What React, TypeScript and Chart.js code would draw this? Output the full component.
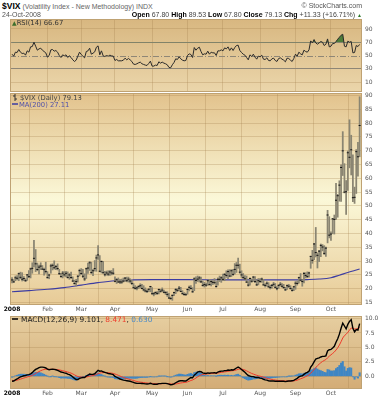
import React, { useEffect, useRef } from "react";
import { Chart, registerables } from "chart.js";
Chart.register(...registerables);

const FONT = "'DejaVu Sans', Verdana, sans-serif";
const HFONT = "'Liberation Sans', Arial, sans-serif";

// ---- x axis (trading-day index) ----
const monthTickIdx = [0, 21, 41, 61, 83, 104, 125, 147, 168, 189];
const monthLabels = ["2008", "Feb", "Mar", "Apr", "May", "Jun", "Jul", "Aug", "Sep", "Oct"];
const rsiTicks = [10, 30, 50, 70, 90];
const priceTicks = [15, 20, 25, 30, 35, 40, 45, 50, 55, 60, 65, 70, 75, 80, 85, 90];
const macdTicks = [0, 2.5, 5, 7.5, 10];

// ---- $VIX daily bars, Jan 2 – Oct 24 2008 ----
const highs = [
  24.05, 23.3, 24.6, 24.8, 25.7, 26.0, 25.8, 24.4, 23.6, 25.2, 26.6, 27.5, 29.4, 37.57, 34.2, 29.3, 28.6, 29.4, 28.4, 27.5, 29.6,
  26.2, 25.3, 28.9, 29.0, 30.1, 28.5, 29.0, 27.0, 25.6, 26.3, 26.2, 26.3, 26.1, 25.5, 26.0, 24.3, 23.1, 23.4, 24.8, 27.1,
  27.3, 27.0, 25.4, 27.5, 29.3, 29.9, 29.6, 27.0, 30.2, 32.2, 35.6, 32.0, 30.1, 29.9, 26.3, 26.4, 26.5, 26.6, 26.6, 27.3,
  24.3, 23.7, 23.9, 23.4, 23.5, 23.9, 24.1, 24.2, 24.2, 23.6, 23.1, 21.9, 21.1, 20.7, 21.1, 21.8, 21.6, 21.1, 20.3, 19.6, 20.0, 20.9,
  20.4, 18.6, 18.9, 19.0, 19.9, 19.8, 20.3, 19.5, 19.0, 18.9, 18.3, 17.0, 17.8, 18.8, 20.1, 20.0, 20.9, 20.5, 19.3, 18.6, 18.4,
  20.0, 21.0, 21.1, 20.4, 24.0, 24.3, 24.6, 24.5, 24.2, 22.8, 22.3, 22.0, 23.1, 23.4, 23.2, 22.9, 23.7, 22.6, 23.9, 24.6, 24.4,
  25.3, 25.5, 26.5, 26.8, 26.9, 26.9, 27.0, 29.1, 29.5, 31.1, 28.9, 26.5, 25.5, 24.8, 24.6, 22.6, 23.9, 23.6, 24.5, 24.4, 23.2, 23.7,
  23.7, 23.9, 23.4, 21.8, 22.5, 22.2, 21.3, 21.6, 22.3, 21.9, 20.8, 21.5, 22.3, 21.9, 21.6, 20.5, 21.4, 21.6, 21.1, 20.2, 20.9,
  22.6, 22.8, 24.2, 25.5, 23.3, 25.9, 25.8, 26.1, 26.0, 31.8, 33.9, 36.4, 42.2, 33.0, 33.9, 36.2, 36.0, 35.6, 35.1, 48.4, 46.1,
  40.6, 45.5, 46.7, 58.2, 54.2, 59.1, 64.9, 76.9, 65.3, 59.2, 69.9, 81.2, 75.6, 68.5, 56.8, 70.4, 73.0, 89.53,
];
const lows = [
  22.06, 22.2, 22.9, 23.2, 22.9, 23.6, 22.8, 22.9, 22.6, 23.0, 24.0, 23.9, 25.6, 27.9, 26.2, 26.5, 25.4, 26.9, 26.9, 24.9, 25.6,
  23.8, 23.6, 25.6, 26.8, 27.1, 26.9, 26.8, 25.1, 24.2, 23.9, 24.5, 24.3, 23.8, 23.4, 23.6, 22.6, 21.6, 21.0, 22.4, 24.6,
  25.1, 24.0, 22.9, 23.7, 25.5, 26.6, 25.4, 24.7, 26.4, 26.3, 30.6, 26.1, 25.7, 25.6, 24.6, 24.9, 24.7, 24.8, 25.0, 25.1,
  22.5, 21.9, 22.2, 21.8, 21.9, 22.4, 22.6, 22.5, 22.4, 22.1, 21.5, 20.2, 19.8, 19.6, 20.1, 20.3, 19.9, 19.2, 18.8, 18.6, 18.9, 18.9,
  18.0, 17.4, 17.9, 17.9, 18.1, 18.7, 18.9, 18.5, 17.9, 17.2, 16.5, 16.1, 15.8, 17.5, 18.2, 18.9, 19.3, 18.9, 18.0, 17.6, 17.6,
  18.0, 19.2, 19.8, 18.6, 19.3, 21.9, 22.6, 22.4, 22.2, 20.9, 20.6, 20.8, 21.2, 21.3, 21.0, 21.5, 21.7, 20.5, 21.3, 22.6, 22.3,
  22.9, 22.9, 24.1, 23.6, 24.3, 24.4, 24.8, 25.3, 25.9, 27.4, 25.6, 24.1, 23.6, 23.3, 22.2, 20.9, 21.3, 22.3, 22.6, 22.2, 21.1, 21.4,
  22.3, 22.3, 21.2, 20.6, 20.9, 20.5, 19.9, 20.2, 20.9, 20.2, 19.6, 20.1, 20.9, 20.6, 20.1, 19.3, 19.7, 20.4, 19.8, 19.1, 19.3,
  19.8, 21.3, 22.0, 22.8, 20.9, 22.1, 23.9, 24.0, 24.2, 27.4, 29.2, 30.5, 31.5, 27.5, 29.8, 31.6, 33.7, 32.4, 31.7, 36.6, 38.4,
  37.5, 39.9, 39.8, 45.1, 45.9, 51.7, 51.6, 61.0, 54.7, 46.9, 55.6, 63.8, 61.2, 51.5, 50.9, 54.5, 60.8, 67.8,
];
const closes = [
  23.17, 22.49, 23.94, 23.79, 25.43, 24.12, 23.45, 23.68, 22.9, 25.01, 24.38, 27.18, 27.39, 31.01, 29.02, 26.96, 27.81, 28.19, 27.1, 26.9, 26.2,
  24.02, 24.95, 28.24, 28.48, 27.59, 28.01, 27.31, 25.45, 24.38, 25.63, 25.02, 25.59, 24.1, 24.99, 24.06, 22.78, 21.9, 22.58, 24.51, 26.54,
  25.52, 24.51, 23.53, 27.23, 27.49, 29.38, 25.89, 26.5, 27.29, 31.16, 32.24, 26.33, 29.84, 25.79, 25.06, 25.71, 25.28, 26.06, 25.71, 25.61,
  22.68, 23.27, 22.45, 22.45, 22.42, 22.77, 23.83, 22.9, 23.46, 22.77, 21.92, 20.37, 20.13, 20.3, 20.82, 21.08, 20.1, 19.59, 19.2, 19.04, 19.8, 20.79,
  18.18, 18.18, 18.61, 18.3, 19.73, 19.08, 19.5, 18.71, 18.6, 17.94, 16.63, 16.47, 17.58, 18.59, 19.66, 19.41, 20.19, 19.03, 18.22, 17.9, 17.83,
  19.72, 20.5, 20.1, 18.9, 23.56, 23.0, 23.47, 23.9, 22.5, 21.2, 21.5, 21.3, 22.9, 21.5, 22.6, 22.3, 22.2, 20.8, 23.4, 23.4, 23.95,
  23.4, 25.2, 24.8, 26.2, 24.6, 26.5, 25.2, 27.0, 28.5, 28.5, 26.0, 25.0, 24.1, 23.6, 22.4, 21.3, 23.7, 22.7, 24.2, 22.6, 21.4, 22.9,
  22.6, 23.5, 21.4, 21.2, 22.0, 20.7, 20.4, 21.2, 21.6, 20.5, 20.0, 21.2, 21.6, 20.9, 20.4, 19.6, 21.1, 20.9, 20.1, 19.4, 20.7,
  22.0, 21.9, 24.0, 23.1, 22.6, 25.5, 24.8, 24.4, 25.7, 31.7, 30.3, 36.2, 33.1, 32.1, 33.6, 35.7, 35.1, 32.8, 34.7, 46.7, 39.4,
  39.8, 45.3, 45.1, 52.05, 53.68, 57.53, 63.92, 69.95, 54.99, 55.13, 69.25, 67.61, 70.33, 52.97, 53.11, 69.65, 67.8, 79.13,
];

// ---- MA(200), read at selected days ----
const maIdx = [0, 10, 21, 31, 41, 51, 61, 72, 83, 104, 125, 147, 168, 175, 182, 189, 194, 199, 203, 206];
const maVal = [18.9, 19.3, 19.8, 20.4, 21.3, 22.2, 22.9, 23.2, 23.3, 23.3, 23.2, 23.2, 23.2, 23.3, 23.5, 24.0, 24.9, 25.9, 26.6, 27.11];

// ---- RSI(14) ----
const rsi14 = [
  52, 49, 55, 54.5, 59, 55, 53, 53.5, 50.5, 57, 55, 63, 63.5, 70, 64, 58, 60, 61, 58, 56, 54,
  47.5, 50, 58.5, 59, 56.5, 57.5, 55, 50, 47, 51, 49.5, 51, 47, 49.5, 47, 43.5, 41, 43, 49, 55,
  51.5, 49, 46.5, 56, 57, 61, 52, 53.5, 55.5, 62.5, 64.5, 51, 57, 49.5, 48.5, 50, 49, 50.5, 49.5, 49,
  42.5, 44, 42, 42, 42, 43, 46, 43.5, 45.5, 43.5, 41, 37, 36.5, 37.5, 39, 40, 37.5, 36.5, 35.5, 35, 38, 41.5,
  34, 34, 35.5, 35, 40.5, 38.5, 40, 38.5, 37.5, 36, 32, 31.5, 36, 39.5, 45, 44, 48, 45, 43, 42, 42.5,
  50, 52.5, 51.5, 47, 62, 58, 61, 62.5, 56, 51, 52.5, 52, 56.5, 52, 55, 54, 54, 50, 57, 57, 58.5,
  57, 61.5, 60, 63, 57.5, 61.5, 57.5, 62, 65, 65.5, 57.5, 54.5, 52, 50.5, 47, 43.5, 51, 48.5, 52, 47.5, 44.5, 49,
  48, 50.5, 44.5, 44, 46.5, 42.5, 42, 45, 46, 42.5, 41, 45.5, 46.5, 44.5, 43, 40.5, 46, 45.5, 43, 41, 45.5,
  52, 49, 55, 52.5, 51, 58, 56, 55, 58.5, 72, 69, 74, 69, 67, 69, 71, 70, 65, 67, 75, 63,
  64, 68, 68, 71, 74.5, 77.5, 80.5, 82, 64, 63, 71.5, 70, 71, 54, 54.5, 65, 63.5, 66.67,
];

// ---- MACD(12,26,9) ----
const macdLine = [
  -0.85, -0.8, -0.6, -0.45, -0.25, -0.1, 0, 0.1, 0.15, 0.25, 0.3, 0.45, 0.65, 0.95, 1.2, 1.35, 1.5, 1.6, 1.6, 1.55, 1.45,
  1.25, 1.15, 1.2, 1.25, 1.2, 1.15, 1.05, 0.9, 0.75, 0.7, 0.6, 0.55, 0.4, 0.3, 0.15, -0.1, -0.35, -0.55, -0.55, -0.35,
  -0.25, -0.2, -0.2, 0.05, 0.2, 0.4, 0.35, 0.35, 0.45, 0.75, 1.05, 0.9, 0.95, 0.8, 0.7, 0.6, 0.5, 0.45, 0.4, 0.3,
  0, -0.15, -0.3, -0.45, -0.55, -0.65, -0.7, -0.75, -0.8, -0.85, -0.95, -1.05, -1.15, -1.2, -1.2, -1.2, -1.22, -1.25, -1.3, -1.32, -1.3, -1.2,
  -1.3, -1.35, -1.35, -1.35, -1.25, -1.25, -1.2, -1.2, -1.2, -1.25, -1.35, -1.45, -1.4, -1.3, -1.1, -0.95, -0.8, -0.75, -0.75, -0.8, -0.8,
  -0.6, -0.4, -0.2, -0.25, 0.2, 0.45, 0.75, 0.85, 0.8, 0.6, 0.55, 0.5, 0.6, 0.55, 0.6, 0.6, 0.65, 0.55, 0.75, 0.85, 0.9,
  0.9, 1, 1, 1.1, 1.05, 1.15, 1.1, 1.25, 1.45, 1.6, 1.45, 1.2, 0.95, 0.7, 0.4, 0.15, 0.05, -0.05, -0.05, -0.15, -0.2, -0.2,
  -0.3, -0.35, -0.5, -0.6, -0.65, -0.75, -0.8, -0.8, -0.8, -0.85, -0.85, -0.85, -0.85, -0.85, -0.85, -0.9, -0.85, -0.8, -0.8, -0.75, -0.7,
  -0.5, -0.35, -0.1, 0.05, 0.1, 0.35, 0.55, 0.7, 0.9, 1.6, 2, 2.5, 3, 3.1, 3.2, 3.35, 3.45, 3.45, 3.55, 4.4, 4.6,
  4.65, 4.9, 5.2, 5.9, 6.5, 7.3, 8.3, 9.2, 8.7, 8.2, 9, 9.5, 9.8, 8.3, 7.7, 8.1, 8, 9.101,
];
const signalLine = [
  -0.7, -0.72, -0.7, -0.65, -0.57, -0.48, -0.38, -0.28, -0.2, -0.1, -0.02, 0.07, 0.18, 0.33, 0.5, 0.67, 0.83, 0.98, 1.1, 1.19, 1.24,
  1.24, 1.22, 1.22, 1.22, 1.22, 1.2, 1.17, 1.12, 1.05, 0.98, 0.9, 0.83, 0.75, 0.66, 0.56, 0.43, 0.27, 0.11, -0.02, -0.09,
  -0.12, -0.14, -0.15, -0.11, -0.05, 0.04, 0.1, 0.15, 0.21, 0.32, 0.46, 0.55, 0.63, 0.66, 0.67, 0.66, 0.63, 0.6, 0.56, 0.51,
  0.41, 0.3, 0.18, 0.05, -0.07, -0.19, -0.29, -0.38, -0.46, -0.54, -0.62, -0.71, -0.8, -0.88, -0.94, -0.99, -1.03, -1.07, -1.11, -1.15, -1.18, -1.19,
  -1.21, -1.24, -1.26, -1.28, -1.27, -1.27, -1.26, -1.25, -1.24, -1.24, -1.26, -1.3, -1.33, -1.33, -1.31, -1.26, -1.2, -1.14, -1.09, -1.06, -1.03,
  -0.95, -0.84, -0.71, -0.62, -0.46, -0.28, -0.07, 0.11, 0.25, 0.32, 0.37, 0.4, 0.44, 0.46, 0.49, 0.51, 0.54, 0.54, 0.58, 0.64, 0.69,
  0.73, 0.78, 0.82, 0.88, 0.91, 0.96, 0.99, 1.04, 1.12, 1.22, 1.27, 1.26, 1.2, 1.1, 0.96, 0.8, 0.65, 0.51, 0.4, 0.29, 0.19, 0.11,
  0.03, -0.05, -0.14, -0.23, -0.32, -0.4, -0.48, -0.54, -0.59, -0.64, -0.68, -0.71, -0.74, -0.76, -0.78, -0.8, -0.81, -0.81, -0.81, -0.8, -0.78,
  -0.72, -0.65, -0.54, -0.42, -0.32, -0.19, -0.04, 0.11, 0.27, 0.54, 0.83, 1.16, 1.53, 1.84, 2.11, 2.36, 2.58, 2.75, 2.91, 3.21, 3.49,
  3.72, 3.96, 4.21, 4.55, 4.94, 5.41, 5.99, 6.63, 7.04, 7.27, 7.62, 7.99, 8.35, 8.35, 8.2, 8.18, 8.3, 8.471,
];
const macdHist = [
  -0.15, -0.08, 0.1, 0.2, 0.32, 0.38, 0.38, 0.38, 0.35, 0.35, 0.32, 0.38, 0.47, 0.62, 0.7, 0.68, 0.67, 0.62, 0.5, 0.36, 0.21,
  0.01, -0.07, -0.02, 0.03, -0.02, -0.05, -0.12, -0.22, -0.3, -0.28, -0.3, -0.28, -0.35, -0.36, -0.41, -0.53, -0.62, -0.66, -0.53, -0.26,
  -0.13, -0.06, -0.05, 0.16, 0.25, 0.36, 0.25, 0.2, 0.24, 0.43, 0.59, 0.35, 0.32, 0.14, 0.03, -0.06, -0.13, -0.15, -0.16, -0.21,
  -0.41, -0.45, -0.48, -0.5, -0.48, -0.46, -0.41, -0.37, -0.34, -0.31, -0.33, -0.34, -0.35, -0.32, -0.26, -0.21, -0.19, -0.18, -0.19, -0.17, -0.12, -0.01,
  -0.09, -0.11, -0.09, -0.07, 0.02, 0.02, 0.06, 0.05, 0.04, -0.01, -0.09, -0.15, -0.07, 0.03, 0.21, 0.31, 0.4, 0.39, 0.34, 0.26, 0.23,
  0.35, 0.44, 0.51, 0.37, 0.66, 0.73, 0.82, 0.74, 0.55, 0.28, 0.18, 0.1, 0.16, 0.09, 0.11, 0.09, 0.11, 0.01, 0.17, 0.21, 0.21,
  0.17, 0.22, 0.18, 0.22, 0.14, 0.19, 0.11, 0.21, 0.33, 0.38, 0.18, -0.06, -0.25, -0.4, -0.56, -0.65, -0.6, -0.56, -0.45, -0.44, -0.39, -0.31,
  -0.33, -0.3, -0.36, -0.37, -0.33, -0.35, -0.32, -0.26, -0.21, -0.21, -0.17, -0.14, -0.11, -0.09, -0.07, -0.1, -0.04, 0.01, 0.01, 0.05, 0.08,
  0.22, 0.3, 0.44, 0.47, 0.42, 0.54, 0.59, 0.59, 0.63, 1.06, 1.17, 1.34, 1.47, 1.26, 1.09, 0.99, 0.87, 0.7, 0.64, 1.19, 1.11,
  0.93, 0.94, 0.99, 1.35, 1.56, 1.89, 2.31, 2.57, 1.66, 0.93, 1.38, 1.51, 1.45, -0.05, -0.5, -0.08, -0.3, 0.63,
];

const X_MIN = -1.2;
const X_MAX = 207.4;
const GRID = "rgba(160,125,75,0.28)";

const panelPlugin: any = {
  id: "panel",
  beforeDraw(chart: any, _a: any, opts: any) {
    const { ctx, chartArea: a } = chart;
    const g = ctx.createLinearGradient(0, a.top, 0, a.bottom);
    (opts.stops || []).forEach((s: any) => g.addColorStop(s[0], s[1]));
    ctx.save();
    ctx.fillStyle = g;
    ctx.fillRect(a.left, a.top, a.right - a.left, a.bottom - a.top);
    ctx.restore();
  },
  beforeDatasetsDraw(chart: any, _a: any, opts: any) {
    const { ctx, chartArea: a } = chart;
    (opts.refs || []).forEach((r: any) => {
      const y = Math.round(chart.scales.y.getPixelForValue(r.value)) + 0.5;
      ctx.save();
      ctx.strokeStyle = r.color;
      ctx.lineWidth = 1;
      ctx.setLineDash(r.dash || []);
      ctx.beginPath();
      ctx.moveTo(a.left, y);
      ctx.lineTo(a.right, y);
      ctx.stroke();
      ctx.restore();
    });
  },
  afterDraw(chart: any) {
    const { ctx, chartArea: a } = chart;
    ctx.save();
    ctx.strokeStyle = "#bfa273";
    ctx.lineWidth = 1;
    ctx.strokeRect(a.left + 0.5, a.top + 0.5, a.right - a.left - 1, a.bottom - a.top - 1);
    ctx.restore();
  },
};

function xScale(showLabels: boolean, h: number): any {
  return {
    type: "linear",
    min: X_MIN,
    max: X_MAX,
    offset: false,
    afterBuildTicks: (s: any) => {
      s.ticks = monthTickIdx.map((v) => ({ value: v }));
    },
    afterFit: (s: any) => {
      s.height = h;
      s.paddingLeft = 0;
      s.paddingRight = 0;
    },
    grid: {
      color: (c: any) => (c.tick && c.tick.value === 0 ? "rgba(0,0,0,0)" : GRID),
      drawTicks: false,
    },
    border: { display: false },
    ticks: {
      display: showLabels,
      autoSkip: false,
      maxRotation: 0,
      minRotation: 0,
      padding: 1,
      color: (c: any) => (c.tick && c.tick.value === 0 ? "#000" : "#555"),
      font: (c: any) => ({ family: FONT, size: 6, weight: c.tick && c.tick.value === 0 ? "bold" : "normal" }),
      callback: (v: number) => {
        const i = monthTickIdx.indexOf(v);
        return i >= 0 ? monthLabels[i] : "";
      },
    },
  };
}

function yScale(min: number, max: number, ticks: number[], fmt: (v: number) => string, gridColor?: any): any {
  return {
    type: "linear",
    position: "right",
    min,
    max,
    afterBuildTicks: (s: any) => {
      s.ticks = ticks.map((v) => ({ value: v }));
    },
    afterFit: (s: any) => {
      s.width = 26;
      s.paddingTop = 0;
      s.paddingBottom = 0;
    },
    grid: { color: gridColor || GRID, drawTicks: false },
    border: { display: false },
    ticks: { padding: 3, color: "#555", font: { family: FONT, size: 6 }, callback: fmt },
  };
}

const baseOpts = (padTop: number, padBottom: number) => ({
  responsive: false,
  maintainAspectRatio: false,
  animation: false as const,
  devicePixelRatio: 1,
  events: [] as any[],
  layout: { padding: { left: 10, right: 0, top: padTop, bottom: padBottom } },
});

function rsiConfig(): any {
  return {
    type: "line",
    data: {
      datasets: [
        {
          data: rsi14.map((v, i) => ({ x: i, y: v })),
          borderColor: "#2a2a2a",
          borderWidth: 1,
          pointRadius: 0,
          tension: 0,
          fill: { target: { value: 70 }, above: "#4d7d38", below: "rgba(0,0,0,0)" },
        },
      ],
    },
    options: {
      ...baseOpts(5, 4),
      scales: {
        x: xScale(false, 0),
        y: yScale(-5, 105, rsiTicks, (v) => String(v), (c: any) =>
          c.tick && (c.tick.value === 70 || c.tick.value === 30) ? "#8e8676" : c.tick && c.tick.value === 50 ? "rgba(0,0,0,0)" : GRID
        ),
      },
      plugins: {
        legend: { display: false },
        tooltip: { enabled: false },
        panel: {
          stops: [[0, "#d8b780"], [1, "#ebd6ab"]],
          refs: [{ value: 50, color: "#8e8676", dash: [6, 2, 1, 2] }],
        },
      },
    },
    plugins: [panelPlugin],
  };
}

function priceConfig(): any {
  return {
    type: "bar",
    data: {
      datasets: [
        {
          type: "line",
          data: maIdx.map((x, i) => ({ x, y: maVal[i] })),
          borderColor: "#3c3ca2",
          borderWidth: 1.1,
          pointRadius: 0,
          cubicInterpolationMode: "monotone",
          order: 3,
        },
        {
          type: "bar",
          data: highs.map((h, i) => ({ x: i, y: [lows[i], h] })),
          backgroundColor: "#8a8572",
          borderWidth: 0,
          barThickness: 1.1,
          grouped: false,
          order: 2,
        },
        {
          type: "line",
          data: closes.map((c, i) => ({ x: i, y: c })),
          showLine: false,
          pointStyle: "line",
          pointRadius: 1,
          pointBorderWidth: 1,
          pointBorderColor: "#151515",
          pointBackgroundColor: "#151515",
          order: 1,
        },
      ],
    },
    options: {
      ...baseOpts(7, 0),
      scales: {
        x: xScale(true, 13),
        y: yScale(14.1, 90.9, priceTicks, (v) => String(v)),
      },
      plugins: {
        legend: { display: false },
        tooltip: { enabled: false },
        panel: { stops: [[0, "#e2c28c"], [0.5, "#fbf8d8"], [1, "#e7ca96"]] },
      },
    },
    plugins: [panelPlugin],
  };
}

function macdConfig(): any {
  return {
    type: "bar",
    data: {
      datasets: [
        {
          type: "bar",
          data: macdHist.map((v, i) => ({ x: i, y: v })),
          backgroundColor: "#3f86c4",
          borderWidth: 0,
          barThickness: 1.4,
          grouped: false,
          order: 3,
        },
        {
          type: "line",
          data: signalLine.map((v, i) => ({ x: i, y: v })),
          borderColor: "#f03a2a",
          borderWidth: 1,
          pointRadius: 0,
          order: 2,
        },
        {
          type: "line",
          data: macdLine.map((v, i) => ({ x: i, y: v })),
          borderColor: "#000",
          borderWidth: 1.4,
          pointRadius: 0,
          order: 1,
        },
      ],
    },
    options: {
      ...baseOpts(7, 0),
      scales: {
        x: xScale(true, 11),
        y: yScale(-2.18, 10.43, macdTicks, (v) => Number(v).toFixed(1)),
      },
      plugins: {
        legend: { display: false },
        tooltip: { enabled: false },
        panel: { stops: [[0, "#e6cea0"], [1, "#d3ac76"]] },
      },
    },
    plugins: [panelPlugin],
  };
}

const abs = (s: any): any => ({ position: "absolute", whiteSpace: "nowrap", lineHeight: "8px", ...s });

export default function App() {
  const rsiRef = useRef<HTMLCanvasElement>(null);
  const priceRef = useRef<HTMLCanvasElement>(null);
  const macdRef = useRef<HTMLCanvasElement>(null);

  useEffect(() => {
    const charts = [
      new Chart(rsiRef.current as HTMLCanvasElement, rsiConfig()),
      new Chart(priceRef.current as HTMLCanvasElement, priceConfig()),
      new Chart(macdRef.current as HTMLCanvasElement, macdConfig()),
    ];
    return () => charts.forEach((c) => c.destroy());
  }, []);

  return (
    <div style={{ position: "fixed", left: 0, top: 0, width: 388, height: 400, background: "#fff", overflow: "hidden" }}>
      <canvas ref={rsiRef} width={388} height={82} style={{ position: "absolute", left: 0, top: 14 }} />
      <canvas ref={priceRef} width={388} height={232} style={{ position: "absolute", left: 0, top: 86 }} />
      <canvas ref={macdRef} width={388} height={91} style={{ position: "absolute", left: 0, top: 309 }} />

      {/* header */}
      <div style={abs({ left: 2, top: 2, fontFamily: HFONT, fontSize: 7, color: "#666" })}>
        <b style={{ color: "#000", fontSize: 8.5 }}>$VIX</b> (Volatility Index - New Methodology) INDX
      </div>
      <div style={abs({ right: 26, top: 2, fontFamily: HFONT, fontSize: 7, color: "#555" })}>© StockCharts.com</div>
      <div style={abs({ left: 2, top: 11, fontFamily: HFONT, fontSize: 7, color: "#555" })}>24-Oct-2008</div>
      <div style={abs({ right: 26, top: 11, fontFamily: HFONT, fontSize: 7, color: "#444" })}>
        <b style={{ color: "#000" }}>Open</b> 67.80 <b style={{ color: "#000" }}>High</b> 89.53{" "}
        <b style={{ color: "#000" }}>Low</b> 67.80 <b style={{ color: "#000" }}>Close</b> 79.13{" "}
        <b style={{ color: "#000" }}>Chg</b> +11.33 (+16.71%) <span style={{ color: "#2f7a2f", fontSize: 5 }}>▲</span>
      </div>

      {/* panel labels */}
      <div style={abs({ left: 12, top: 19, fontFamily: FONT, fontSize: 6.8, color: "#333" })}>
        <span style={{ color: "#3d6f2c", fontSize: 6 }}>▲</span>RSI(14) 66.67
      </div>
      <div style={abs({ left: 12, top: 94, fontFamily: FONT, fontSize: 6.8, color: "#444" })}>
        <svg width="6" height="7" style={{ verticalAlign: "-1px", marginRight: 2 }}>
          <path d="M3 0V7M1 2H3M3 5H5" stroke="#333" strokeWidth="1" fill="none" />
        </svg>
        $VIX (Daily) 79.13
      </div>
      <div style={abs({ left: 12, top: 101, fontFamily: FONT, fontSize: 6.8, color: "#5252a8" })}>
        <svg width="6" height="6" style={{ verticalAlign: "0px", marginRight: 1 }}>
          <path d="M0 3H6" stroke="#3c3ca2" strokeWidth="1.5" fill="none" />
        </svg>
        MA(200) 27.11
      </div>
      <div style={abs({ left: 12, top: 316, fontFamily: FONT, fontSize: 7.4, color: "#222" })}>
        <svg width="6" height="6" style={{ verticalAlign: "0px", marginRight: 3 }}>
          <path d="M0 3H6" stroke="#000" strokeWidth="1.5" fill="none" />
        </svg>
        MACD(12,26,9) 9.101, <span style={{ color: "#f03a2a" }}>8.471</span>,{" "}
        <span style={{ color: "#4a8ac8" }}>0.630</span>
      </div>
    </div>
  );
}
